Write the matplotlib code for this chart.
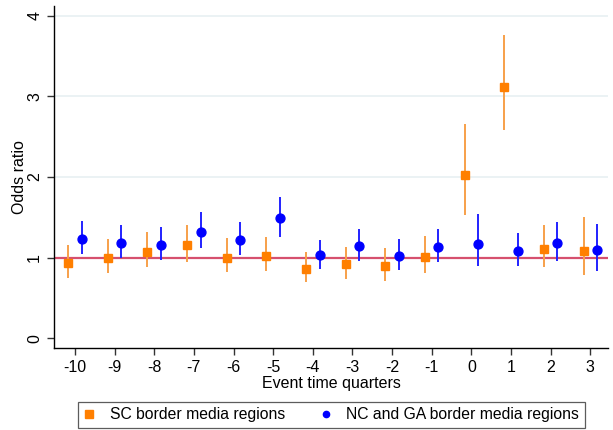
import numpy as np
import matplotlib
matplotlib.use("Agg")
import matplotlib.pyplot as plt
from matplotlib.lines import Line2D

plt.rcParams['font.family'] = ['Liberation Sans', 'DejaVu Sans']
plt.rcParams['axes.unicode_minus'] = False

# event time (quarters relative to the event)
quarters = [-10, -9, -8, -7, -6, -5, -4, -3, -2, -1, 0, 1, 2, 3]

# SC border media regions: odds ratio and 95% CI
sc_or = [0.93, 0.99, 1.07, 1.15, 1.00, 1.02, 0.86, 0.92, 0.89, 1.01, 2.02, 3.11, 1.11, 1.08]
sc_lo = [0.75, 0.81, 0.88, 0.94, 0.82, 0.83, 0.70, 0.74, 0.71, 0.81, 1.53, 2.58, 0.88, 0.78]
sc_hi = [1.15, 1.23, 1.32, 1.41, 1.24, 1.25, 1.07, 1.13, 1.12, 1.27, 2.66, 3.76, 1.41, 1.50]

# NC and GA border media regions
ncga_or = [1.23, 1.18, 1.16, 1.32, 1.22, 1.49, 1.03, 1.14, 1.02, 1.13, 1.17, 1.08, 1.18, 1.09]
ncga_lo = [1.04, 1.00, 0.97, 1.12, 1.03, 1.26, 0.86, 0.96, 0.85, 0.94, 0.89, 0.89, 0.96, 0.83]
ncga_hi = [1.45, 1.40, 1.38, 1.56, 1.44, 1.75, 1.22, 1.35, 1.23, 1.36, 1.54, 1.30, 1.44, 1.42]

orange = '#ff7f00'
blue = '#0000ff'

fig = plt.figure(figsize=(6.13, 4.30), dpi=100)
ax = fig.add_axes([0.088, 0.191, 0.904, 0.795])

x = np.array(quarters, dtype=float)
shift = 0.17

for y in [1, 2, 3, 4]:
    ax.axhline(y, color='#e8f0f2', lw=1.2, zorder=0)
ax.axhline(1, color='#d6506e', lw=1.6, zorder=1)

sc = np.array(sc_or)
ax.errorbar(x - shift, sc, yerr=[sc - np.array(sc_lo), np.array(sc_hi) - sc],
            fmt='none', ecolor='#f7a04a', elinewidth=1.4, capsize=0, zorder=2)
ax.plot(x - shift, sc, 's', color=orange, ms=6.2, zorder=3)

nc = np.array(ncga_or)
ax.errorbar(x + shift, nc, yerr=[nc - np.array(ncga_lo), np.array(ncga_hi) - nc],
            fmt='none', ecolor='#2222ff', elinewidth=1.4, capsize=0, zorder=2)
ax.plot(x + shift, nc, 'o', color=blue, ms=6.4, zorder=3)

ax.set_xlim(-10.53, 3.45)
ax.set_ylim(-0.12, 4.12)
ax.set_xticks(quarters)
ax.set_yticks([0, 1, 2, 3, 4])
ax.tick_params(axis='both', labelsize=11.5, length=5, width=1, color='#333333')
for lab in ax.get_yticklabels():
    lab.set_rotation(90)
    lab.set_va('center')
ax.spines['top'].set_visible(False)
ax.spines['right'].set_visible(False)
ax.spines['left'].set_linewidth(1)
ax.spines['bottom'].set_linewidth(1)
ax.set_xlabel('Event time quarters', fontsize=11.5, labelpad=1)
ax.set_ylabel('Odds ratio', fontsize=11.5, labelpad=0)

handles = [
    Line2D([], [], marker='s', color=orange, ls='none', ms=5.5),
    Line2D([], [], marker='o', color=blue, ls='none', ms=4.5),
]
leg = fig.legend(handles, ['SC border media regions', 'NC and GA border media regions'],
                 loc='center', bbox_to_anchor=(0.540, 0.0355), ncol=2, fontsize=11.3,
                 frameon=True, fancybox=False, handlelength=0.8, handletextpad=0.9,
                 columnspacing=2.2, borderpad=0.35)
leg.get_frame().set_edgecolor('#333333')
leg.get_frame().set_linewidth(0.9)

fig.savefig('out.png', dpi=100)
